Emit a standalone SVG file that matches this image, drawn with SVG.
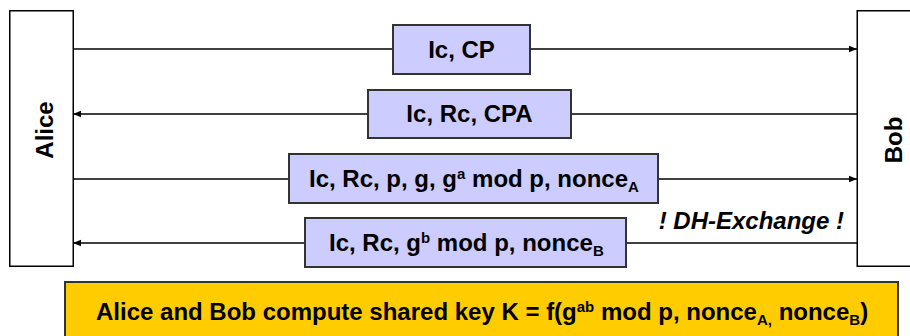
<svg xmlns="http://www.w3.org/2000/svg" width="910" height="336" viewBox="0 0 910 336">
<style>
.party{fill:#fff;stroke:#000;stroke-width:1.5}
.msg{fill:#ccccff;stroke:#333;stroke-width:2}
.t{font-family:"Liberation Sans",Arial,sans-serif;font-weight:bold;font-size:24px;fill:#000}
.s{font-size:15px}
.line{stroke:#000;stroke-width:1.5;fill:none}
</style>
<defs>
<marker id="ah" viewBox="0 0 10 10" refX="10" refY="5" markerWidth="8" markerHeight="8" markerUnits="userSpaceOnUse" orient="auto">
<path d="M0,1 L10,5 L0,9 Z" fill="#000"/>
</marker>
</defs>
<g id="connectors">
<line class="line" x1="73" y1="49" x2="857" y2="49" marker-end="url(#ah)"/>
<line class="line" x1="857" y1="114" x2="73" y2="114" marker-end="url(#ah)"/>
<line class="line" x1="73" y1="179" x2="857" y2="179" marker-end="url(#ah)"/>
<line class="line" x1="857" y1="243" x2="73" y2="243" marker-end="url(#ah)"/>
</g>
<g id="alice">
<rect class="party" x="9.75" y="10.75" width="63.5" height="255.5"/>
<text class="t" font-size="23" text-anchor="middle" transform="translate(53,130) rotate(-90)">Alice</text>
</g>
<g id="bob">
<rect class="party" x="857.25" y="10.75" width="60" height="255.5"/>
<text class="t" font-size="23" text-anchor="middle" transform="translate(902,140) rotate(-90)">Bob</text>
</g>
<g id="msg1">
<rect class="msg" x="393" y="25" width="137" height="49"/>
<text class="t" x="461.5" y="57.5" text-anchor="middle">Ic, CP</text>
</g>
<g id="msg2">
<rect class="msg" x="368" y="90" width="203" height="48"/>
<text class="t" x="469.5" y="122" text-anchor="middle">Ic, Rc, CPA</text>
</g>
<g id="msg3">
<rect class="msg" x="289" y="154" width="369" height="49"/>
<text class="t" x="309" y="187">Ic, Rc, p, g, g<tspan class="s" dy="-8">a</tspan><tspan dy="8"> mod p, nonce</tspan><tspan class="s" dy="5">A</tspan></text>
</g>
<g id="msg4">
<rect class="msg" x="305" y="218" width="321" height="49"/>
<text class="t" x="329" y="251">Ic, Rc, g<tspan class="s" dy="-8">b</tspan><tspan dy="8"> mod p, nonce</tspan><tspan class="s" dy="5">B</tspan></text>
</g>
<g id="dh-label">
<text class="t" x="844" y="229" text-anchor="end" font-style="italic">! DH-Exchange !</text>
</g>
<g id="result">
<rect x="65" y="282" width="833" height="60" fill="#ffcc00" stroke="#333" stroke-width="2"/>
<text class="t" x="96" y="320">Alice and Bob compute shared key K = f(g<tspan class="s" dy="-8">ab</tspan><tspan dy="8"> mod p, nonce</tspan><tspan class="s" dy="5">A,</tspan><tspan dy="-5"> nonce</tspan><tspan class="s" dy="5">B</tspan><tspan dy="-5">)</tspan></text>
</g>
</svg>
